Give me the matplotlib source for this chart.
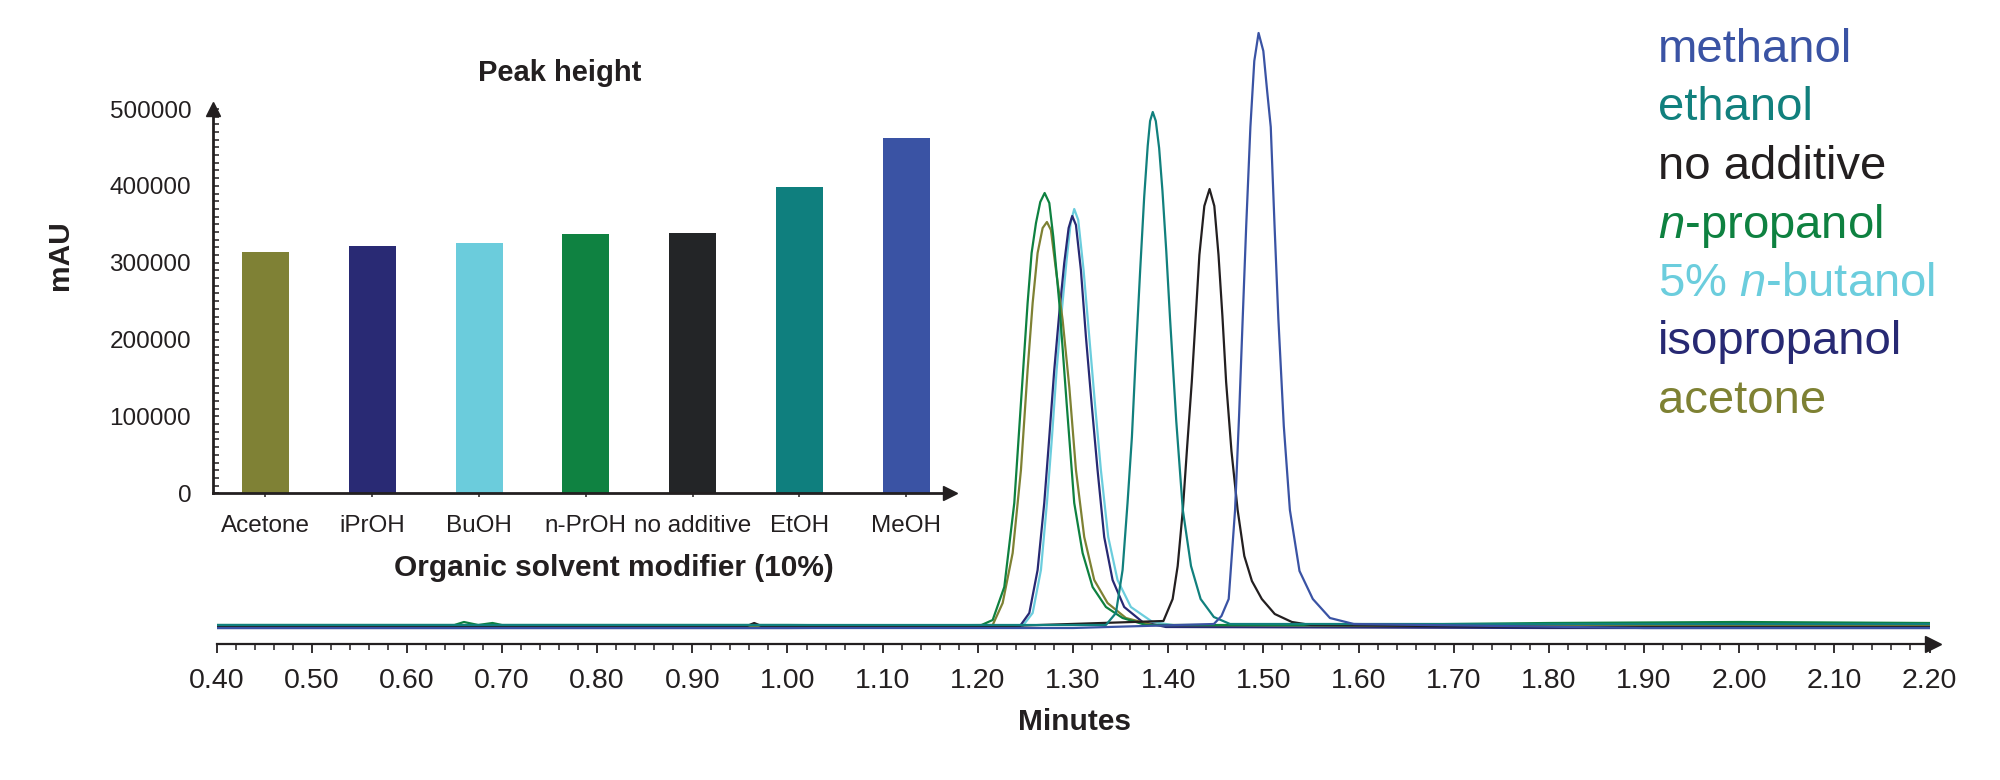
import matplotlib
matplotlib.use("Agg")
import matplotlib.pyplot as plt
from matplotlib.ticker import MultipleLocator, FormatStrFormatter

plt.rcParams['font.family'] = ['Liberation Sans', 'DejaVu Sans']
plt.rcParams['mathtext.fontset'] = 'custom'
plt.rcParams['mathtext.rm'] = 'Liberation Sans'
plt.rcParams['mathtext.it'] = 'Liberation Sans:italic'

# inset bar chart: peak height per modifier
bar_names = ['Acetone', 'iPrOH', 'BuOH', 'n-PrOH', 'no additive', 'EtOH', 'MeOH']
bar_values = [314000, 322000, 326000, 338000, 339000, 399000, 462000]
bar_colors = ['#7f8135', '#292a74', '#6bccdc', '#0f8241', '#232527', '#0f7f7e', '#3a53a4']

# chromatogram traces (minutes, detector signal)
methanol_t = [0.40, 0.70, 1.00, 1.30, 1.4480, 1.4560, 1.4636, 1.4703, 1.4745, 1.4783, 1.4820, 1.4864, 1.4905,
              1.4950, 1.5000, 1.5040, 1.5078, 1.5118, 1.5158, 1.5215, 1.5279, 1.5380, 1.5520, 1.5700, 1.5950,
              1.90, 2.20]
methanol_h = [-2, -2, -2, -2, 2, 10, 27, 116, 210, 307, 400, 499, 565,
              593, 575, 535, 499, 400, 307, 200, 116, 55, 27, 8, 2,
              -2, -2]

ethanol_t = [0.40, 0.80, 1.20, 1.3346, 1.3451, 1.3521, 1.3573, 1.3619, 1.3661, 1.3706, 1.3748, 1.3785, 1.3810,
             1.3838, 1.3870, 1.3905, 1.3940, 1.3980, 1.4020, 1.4085, 1.4154, 1.4240, 1.4341, 1.4480, 1.4650,
             1.80, 2.20]
ethanol_h = [1, 1, 1, 1, 13, 56, 123, 189, 273, 356, 429, 480, 505,
             514, 505, 478, 435, 375, 307, 205, 116, 60, 27, 9, 2,
             2, 2]

noadd_t = [0.40, 0.955, 0.965, 0.975, 1.20, 1.3950, 1.4047, 1.4100, 1.4154, 1.4200, 1.4248, 1.4290, 1.4328,
           1.4380, 1.4435, 1.4485, 1.4529, 1.4570, 1.4609, 1.4665, 1.4730, 1.4800, 1.4880, 1.4984, 1.5120,
           1.5300, 1.5500, 1.80, 2.20]
noadd_h = [-1, -1, 3, -1, -1, 5, 27, 60, 116, 180, 244, 310, 371,
           420, 437, 420, 371, 310, 244, 175, 116, 70, 45, 27, 12,
           4, 1, -1, -1]

npropanol_t = [0.40, 0.65, 0.66, 0.675, 0.69, 0.70, 1.00, 1.2016, 1.2156, 1.2278, 1.2383, 1.2453, 1.2523,
               1.2565, 1.2611, 1.2656, 1.2702, 1.2751, 1.2793, 1.2856, 1.2933, 1.3013, 1.3101, 1.3206, 1.3346,
               1.3521, 1.3766, 1.60, 1.80, 2.00, 2.20]
npropanol_h = [1, 1, 4, 1, 3, 1, 1, 0, 6, 39, 123, 223, 323,
               373, 403, 424, 433, 423, 389, 323, 223, 123, 73, 39, 19,
               8, 1, 1, 3, 4, 3]

butanol_t = [0.40, 1.00, 1.2471, 1.2576, 1.2663, 1.2726, 1.2779, 1.2828, 1.2880, 1.2933, 1.2975, 1.3013,
             1.3055, 1.3111, 1.3171, 1.3230, 1.3293, 1.3370, 1.3468, 1.3608, 1.3836, 1.4116, 1.80, 2.20]
butanol_h = [0, 0, 0, 13, 56, 123, 189, 256, 313, 366, 403, 417,
             406, 356, 289, 223, 156, 89, 46, 19, 4, 0, 0, 0]

isoprop_t = [0.40, 1.00, 1.2436, 1.2541, 1.2628, 1.2698, 1.2751, 1.2803, 1.2856, 1.2908, 1.2954, 1.2992,
             1.3031, 1.3083, 1.3136, 1.3195, 1.3258, 1.3328, 1.3416, 1.3538, 1.3731, 1.3976, 1.80, 2.20]
isoprop_h = [-2, -2, -1, 13, 56, 123, 189, 256, 313, 363, 398, 410,
             401, 356, 289, 223, 156, 89, 46, 19, 4, -1, -2, -2]

acetone_t = [0.40, 1.00, 1.2156, 1.2261, 1.2366, 1.2453, 1.2523, 1.2576, 1.2628, 1.2681, 1.2726, 1.2768,
             1.2821, 1.2891, 1.2961, 1.3031, 1.3118, 1.3223, 1.3363, 1.3556, 1.3836, 1.80, 2.20]
acetone_h = [0, 0, 1, 23, 73, 156, 256, 323, 373, 398, 404, 396,
             356, 306, 239, 156, 89, 46, 23, 8, 1, 0, 0]

legend_labels = ['methanol', 'ethanol', 'no additive', r'$\mathit{n}$-propanol',
                 r'5% $\mathit{n}$-butanol', 'isopropanol', 'acetone']
legend_colors = ['#3a53a4', '#11807d', '#231f20', '#0e8140', '#6bcddd', '#272973', '#7e8133']

W, H = 2000, 780


def box(x0, y0, x1, y1):
    # pixel rectangle -> figure fraction
    return [x0 / W, 1 - y1 / H, (x1 - x0) / W, (y1 - y0) / H]


fig = plt.figure(figsize=(20, 7.8), dpi=100)

# ---- main chromatogram ----
ax = fig.add_axes(box(216.5, 0, 1929.5, 644.3))
ax.patch.set_visible(False)
traces = [
    (butanol_t, butanol_h, '#6bcddd'),
    (isoprop_t, isoprop_h, '#272973'),
    (acetone_t, acetone_h, '#7e8133'),
    (npropanol_t, npropanol_h, '#0e8140'),
    (noadd_t, noadd_h, '#231f20'),
    (ethanol_t, ethanol_h, '#11807d'),
    (methanol_t, methanol_h, '#3a53a4'),
]
for t, h, c in traces:
    ax.plot(t, h, color=c, lw=1.6, solid_joinstyle='round')

ax.set_xlim(0.4, 2.2)
ax.set_ylim(-18.3, 626)
for s in ['left', 'right', 'top']:
    ax.spines[s].set_visible(False)
ax.spines['bottom'].set_linewidth(1.6)
ax.spines['bottom'].set_color('#231f20')
ax.set_yticks([])
ax.xaxis.set_major_locator(MultipleLocator(0.1))
ax.xaxis.set_minor_locator(MultipleLocator(0.02))
ax.xaxis.set_major_formatter(FormatStrFormatter('%.2f'))
ax.tick_params(axis='x', which='major', direction='out', length=6.5, width=1.3,
               labelsize=20.5, pad=10.5, colors='#231f20')
ax.tick_params(axis='x', which='minor', direction='out', length=4, width=1.1, colors='#231f20')
ax.plot([2.2037], [-18.3], marker='>', ms=11, color='#231f20', clip_on=False, zorder=5)

fig.text(1075 / W, 1 - 722 / H, 'Minutes', ha='center', va='center',
         fontsize=21.5, fontweight='bold', color='#231f20')

# ---- inset bar chart ----
ax2 = fig.add_axes(box(212.7, 109, 950, 493.3))
ax2.patch.set_visible(False)
ax2.bar(range(len(bar_values)), bar_values, width=0.44, color=bar_colors, zorder=2)
ax2.set_xlim(-0.494, 6.41)
ax2.set_ylim(0, 500000)
ax2.spines['right'].set_visible(False)
ax2.spines['top'].set_visible(False)
for s in ['left', 'bottom']:
    ax2.spines[s].set_linewidth(2)
    ax2.spines[s].set_color('#231f20')
ax2.set_xticks(range(len(bar_names)))
ax2.set_xticklabels(bar_names)
ax2.yaxis.set_major_locator(MultipleLocator(100000))
ax2.yaxis.set_minor_locator(MultipleLocator(10000))
ax2.yaxis.set_major_formatter(FormatStrFormatter('%d'))
ax2.tick_params(axis='y', which='major', direction='in', length=4.5, width=1.1,
                labelsize=17.5, pad=15.5, colors='#231f20')
ax2.tick_params(axis='y', which='minor', direction='in', length=4.5, width=1.1, colors='#231f20')
ax2.tick_params(axis='x', which='major', direction='out', length=3, width=1.1,
                labelsize=17.5, pad=12.5, colors='#231f20')
ax2.plot([6.41], [0], marker='>', ms=10, color='#231f20', clip_on=False, zorder=5)
ax2.plot([-0.494], [500000], marker='^', ms=10, color='#231f20', clip_on=False, zorder=5)

fig.text(560 / W, 1 - 73 / H, 'Peak height', ha='center', va='center',
         fontsize=21, fontweight='bold', color='#231f20')
fig.text(614 / W, 1 - 568 / H, 'Organic solvent modifier (10%)', ha='center', va='center',
         fontsize=21.5, fontweight='bold', color='#231f20')
fig.text(60 / W, 1 - 255 / H, 'mAU', ha='center', va='center', rotation=90,
         fontsize=21.5, fontweight='bold', color='#231f20')

# ---- coloured legend text ----
for i, (lab, col) in enumerate(zip(legend_labels, legend_colors)):
    fig.text(1658 / W, 1 - (62 + i * 58.5) / H, lab, ha='left', va='baseline',
             fontsize=34, color=col)

fig.savefig('out.png', dpi=100, facecolor='white')
